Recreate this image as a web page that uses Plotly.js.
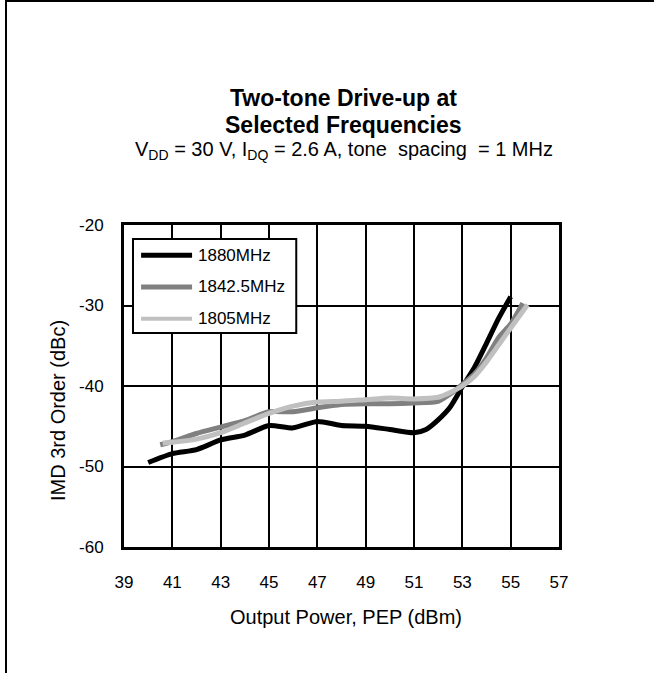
<!DOCTYPE html>
<html>
<head>
<meta charset="utf-8">
<script src="https://cdn.plot.ly/plotly-3.0.1.min.js"></script>
<style>
html,body{margin:0;padding:0;background:#fff;}
#frame{position:absolute;left:5px;top:0px;width:649px;height:673px;border-left:2px solid #000;border-top:2px solid #000;box-sizing:border-box;}
#chart{position:absolute;left:0;top:0;width:654px;height:673px;}
</style>
</head>
<body>
<div id="chart"></div>
<div id="frame"></div>
<script>
// ---- data ----
var seriesNames = ["1880MHz", "1842.5MHz", "1805MHz"];
var seriesColors = ["#000000", "#808080", "#c0c0c0"];

var x1880 = [40, 41, 42, 43, 44, 45, 46, 47, 48, 49, 50, 51, 51.5, 52, 52.5, 53, 53.5, 54, 54.5, 55];
var y1880 = [-49.5, -48.4, -47.9, -46.7, -46.1, -44.9, -45.2, -44.4, -44.9, -45.0, -45.4, -45.8, -45.4, -44.2, -42.6, -40.1, -37.7, -34.7, -31.6, -28.9];

var x1842 = [40.5, 41, 42, 43, 44, 45, 46, 47, 48, 49, 50, 51, 52, 52.5, 53, 53.5, 54, 54.5, 55, 55.5];
var y1842 = [-47.3, -46.9, -45.9, -45.1, -44.3, -43.2, -43.2, -42.7, -42.3, -42.2, -42.2, -42.1, -41.9, -41.0, -39.8, -38.5, -36.5, -34.0, -32.3, -29.7];

var x1805 = [40.6, 41, 42, 43, 44, 45, 46, 47, 48, 49, 50, 51, 52, 52.5, 53, 53.5, 54, 54.5, 55, 55.7];
var y1805 = [-47.1, -47.0, -46.6, -45.8, -44.6, -43.4, -42.5, -42.0, -41.9, -41.7, -41.5, -41.6, -41.4, -40.8, -40.0, -38.8, -37.0, -34.9, -32.8, -29.9];

var xTicks = [39, 41, 43, 45, 47, 49, 51, 53, 55, 57];
var yTicks = [-60, -50, -40, -30, -20];

var titleLines = ["Two-tone Drive-up at", "Selected Frequencies"];
var subtitleText = "V<sub>DD</sub> = 30 V, I<sub>DQ</sub> = 2.6 A, tone  spacing  = 1 MHz";
var xTitle = "Output Power, PEP (dBm)";
var yTitle = "IMD 3rd Order (dBc)";

// ---- chart ----
var FONT = "Liberation Sans, Arial, sans-serif";
var xs = [x1880, x1842, x1805];
var ys = [y1880, y1842, y1805];

var traces = [];
for (var i = 0; i < 3; i++) {
  traces.push({
    x: xs[i], y: ys[i], type: "scatter", mode: "lines", name: seriesNames[i],
    line: {color: seriesColors[i], width: 5, shape: "spline", smoothing: 0.6},
    showlegend: false, hoverinfo: "skip"
  });
}

// custom legend (paper coordinates)
var legL = 0.0207, legR = 0.396, legT = 0.9565, legB = 0.6646;
var shapes = [{
  type: "rect", xref: "paper", yref: "paper", x0: legL, x1: legR, y0: legB, y1: legT,
  line: {color: "#000", width: 2}, fillcolor: "#fff", layer: "above"
}];
var annotations = [];
var rowY = [0.906, 0.8075, 0.709];
var legWidths = [5, 5, 4];
for (var j = 0; j < 3; j++) {
  shapes.push({
    type: "line", xref: "paper", yref: "paper", x0: 0.0393, x1: 0.1565, y0: rowY[j], y1: rowY[j],
    line: {color: seriesColors[j], width: legWidths[j]}, layer: "above"
  });
  annotations.push({
    xref: "paper", yref: "paper", x: 0.166, y: rowY[j], xanchor: "left", yanchor: "middle",
    text: seriesNames[j], showarrow: false, font: {family: FONT, size: 17, color: "#000"}
  });
}
var titleY = [1.395, 1.31];
for (var k = 0; k < 2; k++) {
  annotations.push({
    xref: "paper", yref: "paper", x: 0.505, y: titleY[k], xanchor: "center", yanchor: "middle",
    text: "<b>" + titleLines[k] + "</b>", showarrow: false, font: {family: FONT, size: 23, color: "#000"}
  });
}
annotations.push({
  xref: "paper", yref: "paper", x: 0.505, y: 1.232, xanchor: "center", yanchor: "middle",
  text: subtitleText, showarrow: false, font: {family: FONT, size: 20, color: "#000"}
});
annotations.push({
  xref: "paper", yref: "paper", x: 0.51, y: -0.217, xanchor: "center", yanchor: "middle",
  text: xTitle, showarrow: false, font: {family: FONT, size: 20, color: "#000"}
});
annotations.push({
  xref: "paper", yref: "paper", x: -0.152, y: 0.425, xanchor: "center", yanchor: "middle",
  text: yTitle, textangle: -90, showarrow: false, font: {family: FONT, size: 20, color: "#000"}
});

var layout = {
  width: 654, height: 673,
  margin: {l: 124, r: 95, t: 225, b: 126},
  paper_bgcolor: "#fff", plot_bgcolor: "#fff",
  font: {family: FONT, size: 17, color: "#000"},
  showlegend: false,
  xaxis: {
    range: [39, 57], tickvals: xTicks, ticktext: xTicks.map(String),
    showgrid: true, gridcolor: "#000", gridwidth: 2,
    showline: true, linecolor: "#000", linewidth: 3, mirror: true,
    zeroline: false, ticks: "", ticklabelstandoff: 18,
    tickfont: {family: FONT, size: 17, color: "#000"}
  },
  yaxis: {
    range: [-60, -20], tickvals: yTicks, ticktext: yTicks.map(String),
    showgrid: true, gridcolor: "#000", gridwidth: 2,
    showline: true, linecolor: "#000", linewidth: 3, mirror: true,
    zeroline: false, ticks: "", ticklabelstandoff: 14,
    tickfont: {family: FONT, size: 17, color: "#000"}
  },
  shapes: shapes,
  annotations: annotations
};

Plotly.newPlot("chart", traces, layout, {displayModeBar: false, staticPlot: true});
</script>
</body>
</html>
